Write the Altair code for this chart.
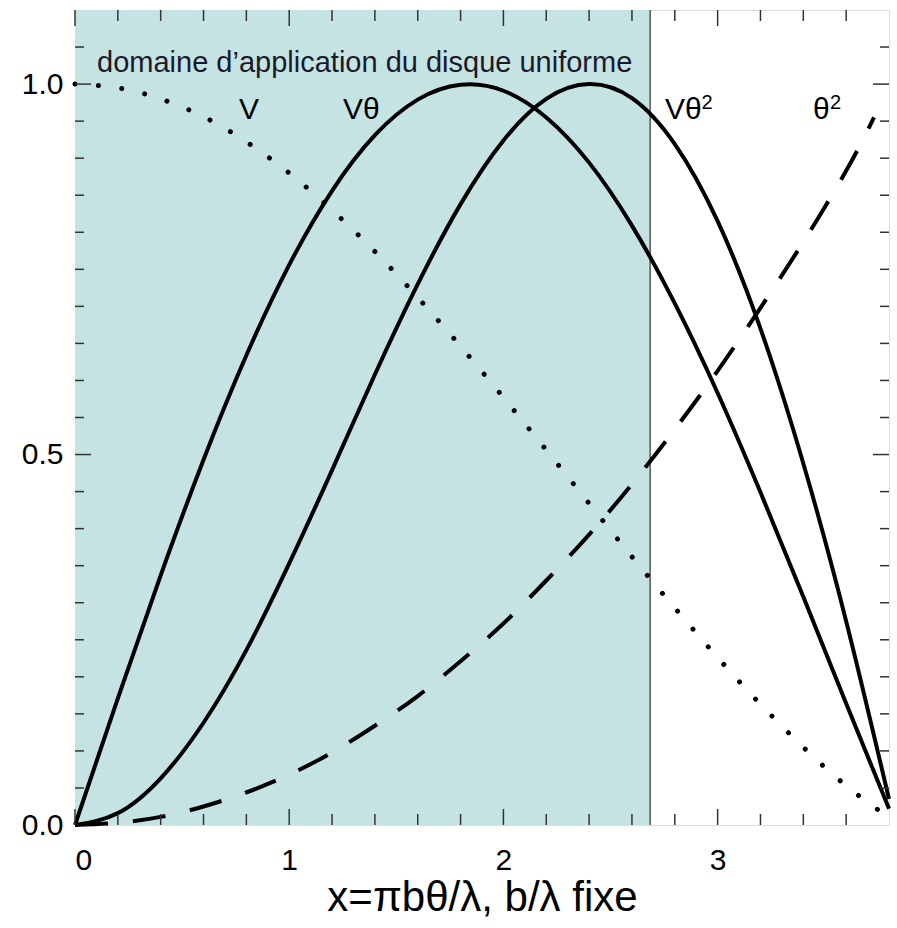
import altair as alt
import pandas as pd

# ---- values ----
x_vals = [0.0, 0.2, 0.4, 0.6, 0.8, 1.0, 1.2, 1.4, 1.6, 1.8, 2.0,
          2.2, 2.4, 2.6, 2.8, 3.0, 3.2, 3.4, 3.6, 3.8]
v_vals = [1.0, 0.995, 0.98, 0.956, 0.922, 0.88, 0.83, 0.774, 0.712, 0.646, 0.577,
          0.506, 0.434, 0.362, 0.293, 0.226, 0.163, 0.105, 0.053, 0.01]
vtheta_vals = [0.0, 0.171, 0.337, 0.493, 0.634, 0.756, 0.856, 0.931, 0.979, 0.999, 0.991,
               0.955, 0.894, 0.809, 0.704, 0.583, 0.449, 0.308, 0.164, 0.022]
vtheta2_vals = [0.0, 0.016, 0.063, 0.138, 0.236, 0.353, 0.479, 0.608, 0.730, 0.838, 0.924,
                0.980, 1.0, 0.981, 0.919, 0.815, 0.670, 0.488, 0.275, 0.035]
theta2_x = [0.0, 0.2, 0.4, 0.6, 0.8, 1.0, 1.2, 1.4, 1.6, 1.8, 2.0,
            2.2, 2.4, 2.6, 2.8, 3.0, 3.2, 3.4, 3.6, 3.73]
theta2_vals = [0.0, 0.003, 0.011, 0.025, 0.044, 0.068, 0.098, 0.134, 0.174, 0.221, 0.272,
               0.330, 0.392, 0.460, 0.534, 0.613, 0.698, 0.787, 0.883, 0.955]

shade_start = [0.0]
shade_end = [2.685]

x_label_values = [0, 1, 2, 3]
y_label_values = [0.0, 0.5, 1.0]
x_major_ticks = [0, 1, 2, 3]
x_minor_ticks = [0.2, 0.4, 0.6, 0.8, 1.2, 1.4, 1.6, 1.8, 2.2, 2.4, 2.6, 2.8, 3.2, 3.4, 3.6]
y_major_ticks = [0.5, 1.0]
y_minor_ticks = [0.05, 0.1, 0.15, 0.2, 0.25, 0.3, 0.35, 0.4, 0.45,
                 0.55, 0.6, 0.65, 0.7, 0.75, 0.8, 0.85, 0.9, 0.95, 1.05]

curve_labels = ["V", "Vθ", "Vθ", "θ"]
curve_label_x = [0.766, 1.251, 2.754, 3.445]
curve_label_y = [0.965, 0.965, 0.965, 0.965]
sup_labels = ["2", "2"]
sup_x = [2.925, 3.525]
sup_y = [0.975, 0.975]

note_text = ["domaine d’application du disque uniforme"]
note_x = [0.103]
note_y = [1.016]

x_title = "x=πbθ/λ, b/λ fixe"

# ---- layout / style ----
W, H = 814, 815
FONT = "Liberation Sans"

xs = alt.Scale(domain=[0, 3.8], nice=False, zero=False)
ys = alt.Scale(domain=[0, 1.1], nice=False, zero=False)

x_axis = alt.Axis(values=x_label_values, format="d", title=x_title,
                  labelFont=FONT, labelFontSize=30, labelColor="black", labelPadding=20,
                  titleFont=FONT, titleFontSize=42, titleFontWeight="normal",
                  titleColor="black", titlePadding=2,
                  ticks=False, domain=False, grid=False)
y_axis = alt.Axis(values=y_label_values, format=".1f", title=None,
                  labelFont=FONT, labelFontSize=30, labelColor="black", labelPadding=12,
                  ticks=False, domain=False, grid=False)


def X(field):
    return alt.X(field, type="quantitative", scale=xs, axis=x_axis)


def Y(field):
    return alt.Y(field, type="quantitative", scale=ys, axis=y_axis)


def curve_df(xv, yv):
    return pd.DataFrame({"x": xv, "y": yv})


shade_df = pd.DataFrame({"x": shade_start, "x2": shade_end})
shade = alt.Chart(shade_df).mark_rect(color="#c6e3e4").encode(
    x=X("x"), x2="x2", y=alt.value(0), y2=alt.value(H))
edge = alt.Chart(pd.DataFrame({"x": shade_end})).mark_rule(
    color="#555555", strokeWidth=1.5).encode(x=X("x"), y=alt.value(0), y2=alt.value(H))

INTERP = "natural"
line_v = alt.Chart(curve_df(x_vals, v_vals)).mark_line(
    color="black", strokeWidth=5, strokeDash=[0.01, 23.5], strokeCap="round",
    interpolate=INTERP).encode(x=X("x"), y=Y("y"))
line_vt = alt.Chart(curve_df(x_vals, vtheta_vals)).mark_line(
    color="black", strokeWidth=4, interpolate=INTERP).encode(x=X("x"), y=Y("y"))
line_vt2 = alt.Chart(curve_df(x_vals, vtheta2_vals)).mark_line(
    color="black", strokeWidth=4, interpolate=INTERP).encode(x=X("x"), y=Y("y"))
line_t2 = alt.Chart(curve_df(theta2_x, theta2_vals)).mark_line(
    color="black", strokeWidth=4, strokeDash=[33, 25], interpolate=INTERP).encode(
    x=X("x"), y=Y("y"))

TICK_COLOR = "#333333"


def xticks(vals, length):
    d = pd.DataFrame({"x": vals})
    bottom = alt.Chart(d).mark_rule(color=TICK_COLOR, strokeWidth=1.5).encode(
        x=X("x"), y=alt.value(H), y2=alt.value(H - length))
    top = alt.Chart(d).mark_rule(color=TICK_COLOR, strokeWidth=1.5).encode(
        x=X("x"), y=alt.value(0), y2=alt.value(length))
    return [bottom, top]


def yticks(vals, length):
    d = pd.DataFrame({"y": vals})
    left = alt.Chart(d).mark_rule(color=TICK_COLOR, strokeWidth=1.5).encode(
        y=Y("y"), x=alt.value(0), x2=alt.value(length))
    right = alt.Chart(d).mark_rule(color=TICK_COLOR, strokeWidth=1.5).encode(
        y=Y("y"), x=alt.value(W - length), x2=alt.value(W))
    return [left, right]


ticks = xticks(x_major_ticks, 16) + xticks(x_minor_ticks, 11) + \
    yticks(y_major_ticks, 16) + yticks(y_minor_ticks, 9)

labels = alt.Chart(pd.DataFrame({"x": curve_label_x, "y": curve_label_y, "t": curve_labels})).mark_text(
    font=FONT, fontSize=30, color="black", align="left", baseline="middle").encode(
    x=X("x"), y=Y("y"), text="t")
sups = alt.Chart(pd.DataFrame({"x": sup_x, "y": sup_y, "t": sup_labels})).mark_text(
    font=FONT, fontSize=20, color="black", align="left", baseline="middle").encode(
    x=X("x"), y=Y("y"), text="t")
note = alt.Chart(pd.DataFrame({"x": note_x, "y": note_y, "t": note_text})).mark_text(
    font=FONT, fontSize=29, color="#1a1a2a", align="left", baseline="alphabetic").encode(
    x=X("x"), y=Y("y"), text="t")

chart = alt.layer(shade, edge, line_t2, line_v, line_vt, line_vt2, *ticks,
                  labels, sups, note).properties(
    width=W, height=H,
    autosize=alt.AutoSizeParams(type="none"),
    padding={"left": 75, "top": 10, "right": 8, "bottom": 97},
).configure_view(stroke="#333333", strokeWidth=1.5).configure(background="white")

chart.save("out.html", embed_options={"renderer": "svg", "actions": False})
